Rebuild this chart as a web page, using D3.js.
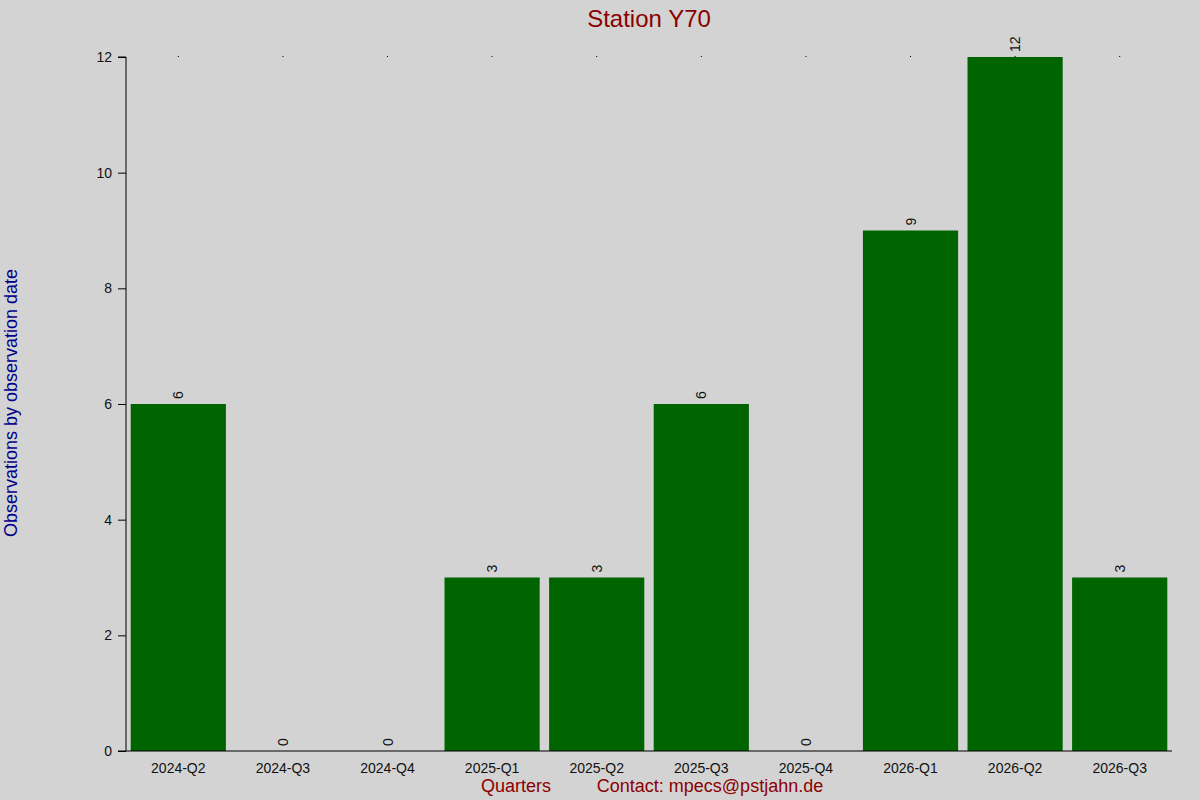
<!DOCTYPE html><html><head><meta charset="utf-8"><script src="https://cdn.jsdelivr.net/npm/d3@7"></script>
<style>body{margin:0;background:#d3d3d3}text{font-family:"Liberation Sans",Arial,sans-serif}</style></head><body>
<script>
const categories=["2024-Q2","2024-Q3","2024-Q4","2025-Q1","2025-Q2","2025-Q3","2025-Q4","2026-Q1","2026-Q2","2026-Q3"];
const values=[6,0,0,3,3,6,0,9,12,3];
const yTicks=[0,2,4,6,8,10,12];
const W=1200,H=800,L=126,R=1172,T=57,B=751;
const svg=d3.select("body").append("svg").attr("width",W).attr("height",H).style("background","#d3d3d3");
const x=d3.scaleBand().domain(categories).range([L,R]).paddingInner(0.09).paddingOuter(0.045);
const y=d3.scaleLinear().domain([0,12]).range([B,T]);
svg.selectAll("rect.bar").data(values).join("rect").attr("class","bar")
 .attr("x",(d,i)=>x(categories[i])).attr("width",x.bandwidth())
 .attr("y",d=>y(d)).attr("height",d=>B-y(d)).attr("fill","#006400");
svg.selectAll("text.val").data(values).join("text").attr("class","val")
 .attr("transform",(d,i)=>`translate(${x(categories[i])+x.bandwidth()/2+5},${y(d)-5}) rotate(-90)`)
 .attr("font-size",14).attr("fill","#111").text(d=>d);
svg.selectAll("rect.dot").data(categories).join("rect").attr("class","dot")
 .attr("x",d=>x(d)+x.bandwidth()/2-0.5).attr("y",T-1).attr("width",1).attr("height",1).attr("fill","#000");
const ya=svg.append("g").attr("transform",`translate(${L},0)`).call(d3.axisLeft(y).tickValues(yTicks).tickSize(8).tickPadding(6));
ya.select(".domain").attr("d",`M-8,${T}H0V${B}`);
ya.selectAll("text").attr("font-size",14).attr("fill","#111").style("font-family","Liberation Sans, Arial");
const xa=svg.append("g").attr("transform",`translate(0,${B})`).call(d3.axisBottom(x).tickSize(0).tickPadding(12));
xa.select(".domain").attr("d",`M${L-8},0H${R}`);
xa.selectAll("text").attr("font-size",14).attr("fill","#111").style("font-family","Liberation Sans, Arial");
svg.append("text").attr("x",649).attr("y",27).attr("text-anchor","middle").attr("font-size",24).attr("fill","#8b0000").text("Station Y70");
svg.append("text").attr("x",516).attr("y",792).attr("text-anchor","middle").attr("font-size",18).attr("fill","#8b0000").text("Quarters");
svg.append("text").attr("x",710).attr("y",792).attr("text-anchor","middle").attr("font-size",18).attr("fill","#8b0000").text("Contact: mpecs@pstjahn.de");
svg.append("text").attr("transform","translate(17,403) rotate(-90)").attr("text-anchor","middle").attr("font-size",18).attr("fill","#00008b").text("Observations by observation date");
</script></body></html>
